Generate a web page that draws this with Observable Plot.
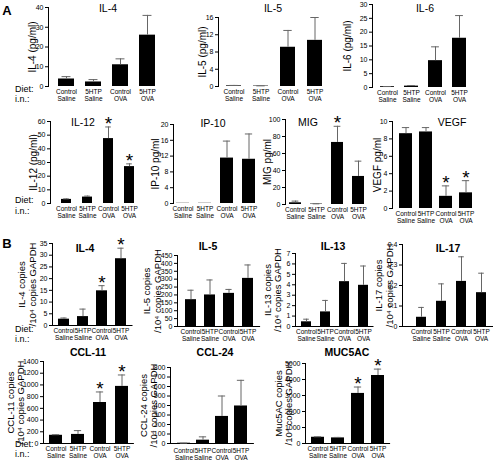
<!DOCTYPE html>
<html><head><meta charset="utf-8">
<script src="https://cdn.jsdelivr.net/npm/d3@7"></script>
<script src="https://cdn.jsdelivr.net/npm/@observablehq/plot@0.6"></script>
<style>
body{margin:0;background:#fff;}
#fig{position:relative;width:493px;height:463px;overflow:hidden;font-family:"Liberation Sans",Arial,sans-serif;background:#fff;color:#000;}
#fig svg{position:absolute;}
.lbl{position:absolute;white-space:nowrap;transform:translate(-50%,-50%);line-height:1;color:#000;}
</style></head><body><div id="fig"></div>
<script>
// ---------- categories ----------
const groups = ["Control Saline","5HTP Saline","Control OVA","5HTP OVA"];
const dietLabels = ["Control","5HTP","Control","5HTP"];
const inLabels = ["Saline","Saline","OVA","OVA"];

// ---------- Panel A (protein, pg/ml) ----------
const a_il4_mean = [3.8, 2.3, 11, 26];
const a_il4_err  = [5, 3.5, 14, 36];
const a_il4_ticks = [0, 10, 20, 30, 40];

const a_il5_mean = [0.15, 0.1, 9.1, 10.7];
const a_il5_err  = [0.25, 0.15, 13, 16];
const a_il5_ticks = [0, 4, 8, 12, 16];

const a_il6_mean = [0.3, 0.5, 9.7, 17.8];
const a_il6_err  = [0.35, 0.7, 14.7, 26];
const a_il6_ticks = [0, 5, 10, 15, 20, 25, 30];

const a_il12_mean = [3, 4.7, 47.5, 27];
const a_il12_err  = [3.4, 5.4, 56, 29];
const a_il12_sig  = [false, false, true, true];
const a_il12_ticks = [0, 10, 20, 30, 40, 50, 60];

const a_ip10_mean = [0.05, 0.05, 11.5, 11.2];
const a_ip10_err  = [0, 0, 15.8, 17.6];
const a_ip10_ticks = [0, 4, 8, 12, 16, 20];

const a_mig_mean = [2, 0.5, 73, 33];
const a_mig_err  = [4, 0.8, 92, 51];
const a_mig_sig  = [false, false, true, false];
const a_mig_ticks = [0, 20, 40, 60, 80, 100];

const a_vegf_mean = [8.6, 8.8, 1.4, 1.8];
const a_vegf_err  = [9.3, 9.3, 2.6, 3.2];
const a_vegf_sig  = [false, false, true, true];
const a_vegf_ticks = [0, 2, 4, 6, 8, 10];

// ---------- Panel B (mRNA copies / 10^4 copies GAPDH) ----------
const b_il4_mean = [2.7, 3.8, 14.8, 28.5];
const b_il4_err  = [3.2, 7, 17, 33];
const b_il4_sig  = [false, false, true, true];
const b_il4_ticks = [0, 5, 10, 15, 20, 25, 30, 35];

const b_il5_mean = [170, 200, 210, 305];
const b_il5_err  = [230, 295, 235, 390];
const b_il5_ticks = [0, 50, 100, 150, 200, 250, 300, 350, 400, 450];

const b_il13_mean = [0.45, 1.4, 4.3, 3.95];
const b_il13_err  = [0.7, 2.5, 6.05, 5.8];
const b_il13_ticks = [0, 1, 2, 3, 4, 5, 6, 7];

const b_il17_mean = [0.045, 0.123, 0.22, 0.165];
const b_il17_err  = [0.093, 0.208, 0.34, 0.26];
const b_il17_ticks = [0, 0.1, 0.2, 0.3, 0.4];

const b_ccl11_mean = [140, 155, 700, 975];
const b_ccl11_err  = [150, 220, 880, 1170];
const b_ccl11_sig  = [false, false, true, true];
const b_ccl11_ticks = [0, 200, 400, 600, 800, 1000, 1200, 1400];

const b_ccl24_mean = [3, 35, 285, 395];
const b_ccl24_err  = [4, 70, 500, 665];
const b_ccl24_ticks = [0, 100, 200, 300, 400, 500, 600, 700, 800];

const b_muc_mean = [390, 350, 3130, 4250];
const b_muc_err  = [420, 380, 3530, 4650];
const b_muc_sig  = [false, false, true, true];
const b_muc_ticks = [0, 1000, 2000, 3000, 4000, 5000];

// ---------- layout ----------
const fig = document.getElementById("fig");
const FONT = "Liberation Sans, Arial, sans-serif";

function label(text, x, y, size, weight) {
  const d = document.createElement("div");
  d.className = "lbl";
  d.textContent = text;
  d.style.left = x + "px"; d.style.top = y + "px";
  d.style.fontSize = size + "px";
  if (weight) d.style.fontWeight = weight;
  fig.appendChild(d);
}

function panel(p) {
  const ml = 46, mt = 24, mb = 26;
  const L = p.ax - ml, T = p.yTop - mt;
  const pi = 1 - p.bw / p.step;
  const po = (p.c0 - p.bw / 2 - p.ax) / p.step;
  const xEnd = p.ax + p.step * (4 - pi + 2 * po);
  const W = Math.ceil(xEnd - L + 6);
  const mr = W - (xEnd - L);
  const H = Math.ceil(p.y0 - T + mb);
  const data = groups.map((g, i) => ({
    g, m: p.mean[i], e: p.err[i], s: p.sig ? p.sig[i] : false,
    lab: dietLabels[i] + "\n" + inLabels[i]
  }));
  const withErr = data.filter(d => d.e > d.m);
  const plot = Plot.plot({
    width: W, height: H,
    marginLeft: ml, marginTop: mt, marginBottom: mb, marginRight: mr,
    style: {background: "transparent", overflow: "visible", fontFamily: FONT, fontSize: "7px", color: "#000"},
    x: {domain: groups, paddingInner: pi, paddingOuter: po, axis: null},
    y: {domain: [0, p.ticks[p.ticks.length - 1]], ticks: p.ticks, tickSize: 3,
        line: true, label: null, tickFormat: () => ""},
    marks: [
      p.base ? Plot.ruleY([0], {stroke: "#000", strokeWidth: 1}) : null,
      Plot.text(p.ticks, {y: d => d, text: d => String(d), frameAnchor: "left", textAnchor: "end", dx: -5, fontSize: 7, fill: "#000"}),
      Plot.barY(data, {x: "g", y: "m", fill: "#000"}),
      Plot.ruleX(withErr, {x: "g", y1: "m", y2: "e", stroke: "#666", strokeWidth: 1}),
      Plot.tickY(withErr, {x: "g", y: "e", stroke: "#666", strokeWidth: 1, insetLeft: p.bw * 0.22, insetRight: p.bw * 0.22}),
      Plot.text(data.filter(d => d.s), {x: "g", y: "e", text: () => "*", fontSize: 19, dy: -3, fill: "#000"}),
      Plot.text(data, {x: "g", y: () => 0, text: "lab", lineAnchor: "top", dy: p.ldy || 3, fontSize: 6.5, lineHeight: 1.05, fill: "#000"}),
      Plot.text([p.ylab], {frameAnchor: "left", rotate: -90, dx: p.ylx - p.ax, textAnchor: "middle", lineAnchor: "middle",
        fontSize: p.ylfs || 10, lineHeight: 1.15, fill: "#000"})
    ]
  });
  plot.style.left = L + "px";
  plot.style.top = T + "px";
  fig.appendChild(plot);
  label(p.title, p.tx, p.ty, p.tfs || 10.5, p.tw);
}

const panels = [
  {title: "IL-4", ylab: "IL-4 (pg/ml)", mean: a_il4_mean, err: a_il4_err, ticks: a_il4_ticks,
   ax: 48, yTop: 7, y0: 86, c0: 66, step: 27, bw: 16, ylx: 32, tx: 108, ty: 8},
  {title: "IL-5", ylab: "IL-5 (pg/ml)", mean: a_il5_mean, err: a_il5_err, ticks: a_il5_ticks,
   ax: 218, yTop: 17, y0: 86, c0: 233.5, step: 27, bw: 15, ylx: 202, tx: 273, ty: 8},
  {title: "IL-6", ylab: "IL-6 (pg/ml)", mean: a_il6_mean, err: a_il6_err, ticks: a_il6_ticks,
   ax: 372, yTop: 4, y0: 87, c0: 386.5, step: 24.5, bw: 14, ylx: 347, tx: 425, ty: 8},
  {title: "IL-12", ylab: "IL-12 (pg/ml)", mean: a_il12_mean, err: a_il12_err, sig: a_il12_sig, ticks: a_il12_ticks,
   ax: 50, yTop: 121, y0: 203, c0: 65, step: 21.7, bw: 10, ylx: 33, tx: 83, ty: 122},
  {title: "IP-10", ylab: "IP-10 pg/ml", mean: a_ip10_mean, err: a_ip10_err, ticks: a_ip10_ticks,
   ax: 173, yTop: 124, y0: 203, c0: 182, step: 22.5, bw: 13, ylx: 155, tx: 213, ty: 123},
  {title: "MIG", ylab: "MIG pg/ml", mean: a_mig_mean, err: a_mig_err, sig: a_mig_sig, ticks: a_mig_ticks,
   ax: 285, yTop: 119, y0: 204, c0: 294, step: 21.5, bw: 12, ylx: 267, tx: 308, ty: 122},
  {title: "VEGF", ylab: "VEGF pg/ml", mean: a_vegf_mean, err: a_vegf_err, sig: a_vegf_sig, ticks: a_vegf_ticks,
   ax: 392, yTop: 121, y0: 208, c0: 405, step: 20.5, bw: 13, ylx: 377, tx: 452, ty: 122},
  {title: "IL-4", ylab: "IL-4 copies\n/10\u2074 copies GAPDH", mean: b_il4_mean, err: b_il4_err, sig: b_il4_sig, ticks: b_il4_ticks,
   ax: 52, yTop: 243, y0: 325, c0: 63, step: 19.5, bw: 11, ylx: 26.5, ylfs: 9.5, tx: 85, ty: 248, tw: 600, base: true},
  {title: "IL-5", ylab: "IL-5 copies\n/10\u2074 copies GAPDH", mean: b_il5_mean, err: b_il5_err, ticks: b_il5_ticks,
   ax: 177, yTop: 255, y0: 326, c0: 189, step: 19.7, bw: 11, ylx: 151.5, ylfs: 9.5, tx: 208, ty: 246, tw: 600, base: true},
  {title: "IL-13", ylab: "IL-13 copies\n/10\u2074 copies GAPDH", mean: b_il13_mean, err: b_il13_err, ticks: b_il13_ticks,
   ax: 295, yTop: 253, y0: 326, c0: 305, step: 19.5, bw: 10, ylx: 272, ylfs: 9.5, tx: 333, ty: 246, tw: 600, base: true},
  {title: "IL-17", ylab: "IL-17 copies\n/10\u2074 copies GAPDH", mean: b_il17_mean, err: b_il17_err, ticks: b_il17_ticks,
   ax: 402, yTop: 244, y0: 326, c0: 420, step: 20.5, bw: 10, ylx: 383.5, ylfs: 9.5, tx: 448, ty: 248, tw: 600, base: true},
  {title: "CCL-11", ylab: "CCL-11 copies\n/10\u2074 copies GAPDH", mean: b_ccl11_mean, err: b_ccl11_err, sig: b_ccl11_sig, ticks: b_ccl11_ticks,
   ax: 43, yTop: 361, y0: 443, c0: 55, step: 22.3, bw: 13, ylx: 15, ylfs: 9.5, tx: 88, ty: 352, tw: 600, base: true},
  {title: "CCL-24", ylab: "CCL-24 copies\n/10\u2074 copies GAPDH", mean: b_ccl24_mean, err: b_ccl24_err, ticks: b_ccl24_ticks,
   ax: 170, yTop: 367, y0: 443, c0: 183, step: 19.3, bw: 13, ylx: 148, ylfs: 9.5, tx: 215, ty: 352, tw: 600, base: true, ldy: 5},
  {title: "MUC5AC", ylab: "Muc5AC copies\n/10\u2074 copies GAPDH", mean: b_muc_mean, err: b_muc_err, sig: b_muc_sig, ticks: b_muc_ticks,
   ax: 305, yTop: 363, y0: 443, c0: 316.5, step: 20.7, bw: 13, ylx: 283, ylfs: 9.5, tx: 347, ty: 352, tw: 600, base: true}
];
panels.forEach(panel);

// row labels
label("A", 7, 10, 13, 700);
label("B", 7, 243, 13, 700);
[[89, 98.5], [200, 211], [329, 338.5], [444, 453.5]].forEach(([d, n]) => {
  const a = document.createElement("div");
  a.className = "lbl"; a.style.transform = "translate(0,-50%)";
  a.style.left = "15px"; a.style.top = d + "px"; a.style.fontSize = "9px";
  a.textContent = "Diet:"; fig.appendChild(a);
  const b = a.cloneNode(); b.style.top = n + "px"; b.textContent = "i.n.:"; fig.appendChild(b);
});
</script>
</body></html>
